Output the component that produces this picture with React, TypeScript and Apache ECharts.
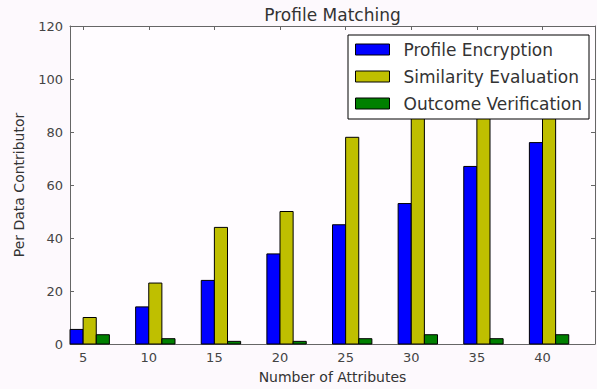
import React, { useEffect, useRef } from "react";
import * as echarts from "echarts";

const categories = ["5", "10", "15", "20", "25", "30", "35", "40"];
const profileEncryption = [5.5, 14, 24, 34, 45, 53, 67, 76];
const similarityEvaluation = [10, 23, 44, 50, 78, 95, 104, 112];
const outcomeVerification = [3.5, 2, 1, 1, 2, 3.5, 2, 3.5];
const yTicks = [0, 20, 40, 60, 80, 100, 120];

const BAR_W = 0.2;
const FONT = "DejaVu Sans";
const AXIS_COLOR = "#666";

function makeSeries(name: string, values: number[], color: string, offset: number) {
  return {
    type: "custom",
    name,
    xAxisIndex: 0,
    yAxisIndex: 0,
    itemStyle: { color },
    data: values.map((v, i) => [i, v]),
    encode: { x: 0, y: 1 },
    renderItem: (params: any, api: any) => {
      const x = api.value(0) + offset;
      const p0 = api.coord([x, 0]);
      const p1 = api.coord([x + BAR_W, api.value(1)]);
      return {
        type: "rect",
        shape: { x: p0[0], y: p1[1], width: p1[0] - p0[0], height: p0[1] - p1[1] },
        style: { fill: color, stroke: "#000", lineWidth: 1 },
      };
    },
  };
}

export default function App() {
  const ref = useRef<HTMLDivElement>(null);
  useEffect(() => {
    const chart = echarts.init(ref.current!, null, { renderer: "svg" });
    const tickVals = categories.map((_, i) => i + BAR_W);
    const labelFmt = (v: number) => categories[Math.round(v - BAR_W)] ?? "";
    const line = { show: true, onZero: false, lineStyle: { color: AXIS_COLOR, width: 1 } };
    chart.setOption({
      animation: false,
      backgroundColor: "#fdf9fd",
      grid: { left: 70, top: 26, right: 2, bottom: 45, show: true, backgroundColor: "#fffcff", borderWidth: 0 },
      legend: {
        orient: "vertical",
        left: 348,
        top: 35,
        backgroundColor: "#ffffff",
        borderColor: "#000",
        borderWidth: 1,
        borderRadius: 0,
        padding: [6, 7, 7, 7],
        itemGap: 10,
        itemWidth: 34,
        itemHeight: 11,
        icon: "rect",
        textStyle: { fontFamily: FONT, fontSize: 17, color: "#333", lineHeight: 17, padding: [0, 0, 0, 9] },
        data: [
          { name: "Profile Encryption", itemStyle: { color: "#0000ff", borderColor: "#000", borderWidth: 1 } },
          { name: "Similarity Evaluation", itemStyle: { color: "#bfbf00", borderColor: "#000", borderWidth: 1 } },
          { name: "Outcome Verification", itemStyle: { color: "#008000", borderColor: "#000", borderWidth: 1 } },
        ],
      },
      xAxis: [
        {
          type: "value",
          min: 0,
          max: 8,
          position: "bottom",
          name: "Number of Attributes",
          nameLocation: "middle",
          nameGap: 26,
          nameTextStyle: { fontFamily: FONT, fontSize: 14, color: "#333" },
          axisLine: line,
          axisTick: { show: true, inside: true, length: 4, customValues: tickVals, lineStyle: { color: AXIS_COLOR } },
          axisLabel: { show: true, customValues: tickVals, formatter: labelFmt, fontFamily: FONT, fontSize: 13, color: "#444", margin: 7 },
          splitLine: { show: false },
        },
        {
          type: "value",
          min: 0,
          max: 8,
          position: "top",
          name: "Profile Matching",
          nameLocation: "middle",
          nameGap: 3,
          nameTextStyle: { fontFamily: FONT, fontSize: 17, color: "#333" },
          axisLine: line,
          axisTick: { show: true, inside: true, length: 4, customValues: tickVals, lineStyle: { color: AXIS_COLOR } },
          axisLabel: { show: false },
          splitLine: { show: false },
        },
      ],
      yAxis: [
        {
          type: "value",
          min: 0,
          max: 120,
          interval: 20,
          position: "left",
          name: "Per Data Contributor",
          nameLocation: "middle",
          nameGap: 44,
          nameRotate: 90,
          nameTextStyle: { fontFamily: FONT, fontSize: 14, color: "#333" },
          axisLine: line,
          axisTick: { show: true, inside: true, length: 4, customValues: yTicks, lineStyle: { color: AXIS_COLOR } },
          axisLabel: { fontFamily: FONT, fontSize: 13, color: "#444", margin: 7 },
          splitLine: { show: false },
        },
        {
          type: "value",
          min: 0,
          max: 120,
          interval: 20,
          position: "right",
          axisLine: line,
          axisTick: { show: true, inside: true, length: 4, lineStyle: { color: AXIS_COLOR } },
          axisLabel: { show: false },
          splitLine: { show: false },
        },
      ],
      series: [
        makeSeries("Profile Encryption", profileEncryption, "#0000ff", 0),
        makeSeries("Similarity Evaluation", similarityEvaluation, "#bfbf00", BAR_W),
        makeSeries("Outcome Verification", outcomeVerification, "#008000", 2 * BAR_W),
      ],
    });
    return () => chart.dispose();
  }, []);
  return <div ref={ref} style={{ position: "fixed", left: 0, top: 0, width: 597, height: 389 }} />;
}
